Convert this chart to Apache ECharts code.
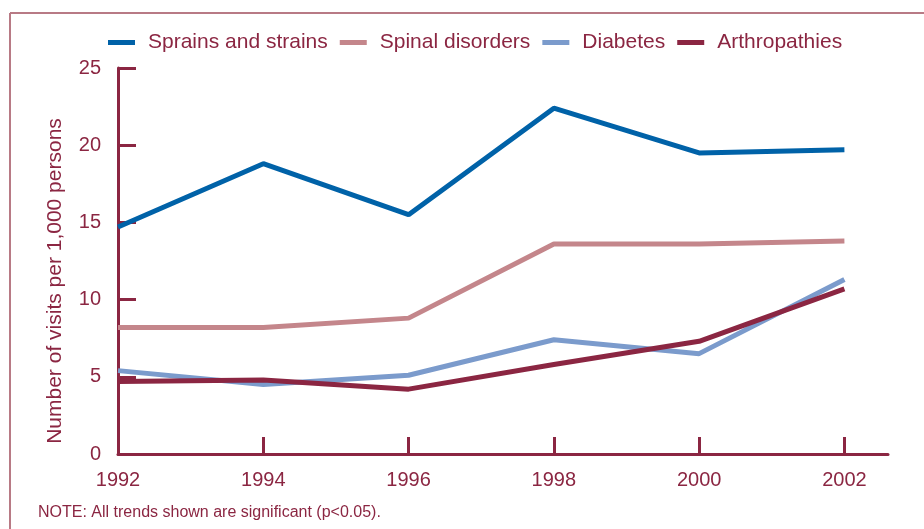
<!DOCTYPE html>
<html>
<head>
<meta charset="utf-8">
<script src="https://cdn.jsdelivr.net/npm/echarts@6/dist/echarts.min.js"></script>
<style>html,body{margin:0;padding:0;background:#fff;}#c{width:924px;height:529px;}</style>
</head>
<body>
<div id="c"></div>
<script>
var years = [1992, 1994, 1996, 1998, 2000, 2002];
var seriesNames = ['Sprains and strains', 'Spinal disorders', 'Diabetes', 'Arthropathies'];
var sprains = [14.7, 18.8, 15.5, 22.4, 19.5, 19.7];
var spinal = [8.2, 8.2, 8.8, 13.6, 13.6, 13.8];
var diabetes = [5.4, 4.5, 5.1, 7.4, 6.5, 11.3];
var arthropathies = [4.7, 4.8, 4.2, 5.8, 7.3, 10.7];
var yTicks = [0, 5, 10, 15, 20, 25];
var xTickValues = [1994, 1996, 1998, 2000, 2002];
var yAxisTitle = 'Number of visits per 1,000 persons';
var noteText = 'NOTE: All trends shown are significant (p<0.05).';

var maroon = '#8b2642';
var colors = ['#0062a8', '#c4868b', '#7b9bcc', '#8b2642'];
var font = 'Liberation Sans, Arial, sans-serif';

function pairs(vals) { return years.map(function (y, i) { return [y, vals[i]]; }); }
var allVals = [sprains, spinal, diabetes, arthropathies];

var chart = echarts.init(document.getElementById('c'), null, {renderer: 'canvas'});
chart.setOption({
  animation: false,
  color: colors,
  textStyle: {fontFamily: font},
  grid: {left: 118, top: 68, right: 36, bottom: 75, containLabel: false},
  legend: {
    top: 27, left: 103,
    icon: 'rect', itemWidth: 27, itemHeight: 5, itemGap: 12,
    textStyle: {color: maroon, fontSize: 21, fontFamily: font, padding: [0, 0, 0, 8]},
    data: seriesNames
  },
  xAxis: {
    type: 'value', min: 1992, max: 2002.6, interval: 2,
    axisLine: {show: true, onZero: false, lineStyle: {color: maroon, width: 3}},
    axisTick: {show: true, inside: true, length: 17, lineStyle: {color: maroon, width: 3}, customValues: xTickValues},
    axisLabel: {color: maroon, fontSize: 20, margin: 16, customValues: years, formatter: function (v) { return String(v); }},
    splitLine: {show: false}
  },
  yAxis: {
    type: 'value', min: 0, max: 25, interval: 5,
    name: yAxisTitle, nameLocation: 'middle', nameGap: 52, nameRotate: 90,
    nameTextStyle: {color: maroon, fontSize: 21, fontFamily: font, padding: [0, 40, 0, 0]},
    axisLine: {show: true, lineStyle: {color: maroon, width: 3}},
    axisTick: {show: true, inside: true, length: 18, lineStyle: {color: maroon, width: 3}, customValues: yTicks.slice(1)},
    axisLabel: {color: maroon, fontSize: 20, margin: 17, customValues: yTicks},
    splitLine: {show: false}
  },
  series: seriesNames.map(function (n, i) {
    return {
      name: n, type: 'line', data: pairs(allVals[i]), symbol: 'none',
      lineStyle: {width: 5, color: colors[i]}, z: 3 + (i === 0 ? 1 : 0)
    };
  }),
  graphic: [
    {type: 'line', shape: {x1: 10, y1: 13, x2: 924, y2: 13}, style: {stroke: '#b87a85', lineWidth: 2}, silent: true},
    {type: 'line', shape: {x1: 10, y1: 13, x2: 10, y2: 529}, style: {stroke: '#b87a85', lineWidth: 2}, silent: true},
    {type: 'text', left: 38, top: 505, style: {text: noteText, fill: maroon, font: '16px ' + font}}
  ]
});
</script>
</body>
</html>
